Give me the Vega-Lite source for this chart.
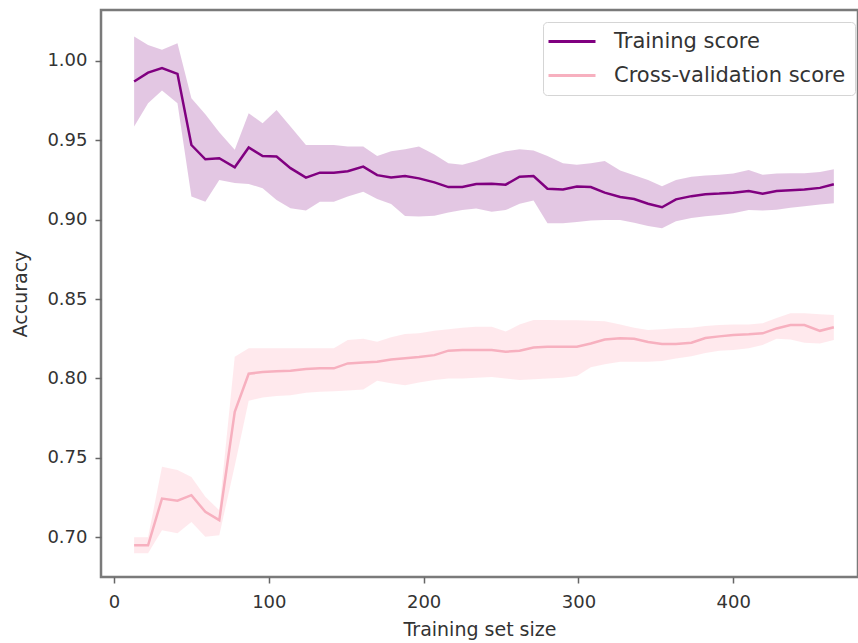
{
  "$schema": "https://vega.github.io/schema/vega-lite/v6.json",
  "width": 757,
  "height": 567,
  "autosize": {"type": "none"},
  "padding": {"left": 101, "top": 10, "right": 0, "bottom": 66},
  "background": "white",
  "config": {
    "font": "DejaVu Sans",
    "view": {"stroke": "#7a7a7a", "strokeWidth": 2.5},
    "axis": {
      "domain": false,
      "grid": false,
      "tickColor": "#666666",
      "tickWidth": 1.5,
      "tickSize": 6,
      "labelFont": "DejaVu Sans",
      "labelFontSize": 18,
      "labelColor": "#333333",
      "labelPadding": 8,
      "titleFont": "DejaVu Sans",
      "titleFontSize": 19,
      "titleFontWeight": "normal",
      "titleColor": "#333333"
    }
  },
  "data": {
    "values": [
      {"size": 13, "series": "Training score", "mean": 0.987, "lo": 0.9586, "hi": 1.0153},
      {"size": 22, "series": "Training score", "mean": 0.9926, "lo": 0.9733, "hi": 1.010},
      {"size": 31, "series": "Training score", "mean": 0.9954, "lo": 0.9813, "hi": 1.0069},
      {"size": 41, "series": "Training score", "mean": 0.9918, "lo": 0.9733, "hi": 1.011},
      {"size": 50, "series": "Training score", "mean": 0.947, "lo": 0.9145, "hi": 0.9765},
      {"size": 59, "series": "Training score", "mean": 0.938, "lo": 0.9113, "hi": 0.9664},
      {"size": 68, "series": "Training score", "mean": 0.9387, "lo": 0.925, "hi": 0.955},
      {"size": 78, "series": "Training score", "mean": 0.933, "lo": 0.923, "hi": 0.944},
      {"size": 87, "series": "Training score", "mean": 0.9454, "lo": 0.9225, "hi": 0.967},
      {"size": 96, "series": "Training score", "mean": 0.940, "lo": 0.9198, "hi": 0.9607},
      {"size": 105, "series": "Training score", "mean": 0.9397, "lo": 0.9124, "hi": 0.969},
      {"size": 114, "series": "Training score", "mean": 0.9324, "lo": 0.9072, "hi": 0.9586},
      {"size": 124, "series": "Training score", "mean": 0.9265, "lo": 0.9057, "hi": 0.947},
      {"size": 133, "series": "Training score", "mean": 0.9296, "lo": 0.9113, "hi": 0.947},
      {"size": 142, "series": "Training score", "mean": 0.9296, "lo": 0.9113, "hi": 0.947},
      {"size": 151, "series": "Training score", "mean": 0.9305, "lo": 0.9145, "hi": 0.946},
      {"size": 161, "series": "Training score", "mean": 0.9334, "lo": 0.9176, "hi": 0.946},
      {"size": 170, "series": "Training score", "mean": 0.928, "lo": 0.913, "hi": 0.940},
      {"size": 179, "series": "Training score", "mean": 0.9265, "lo": 0.9099, "hi": 0.943},
      {"size": 188, "series": "Training score", "mean": 0.9275, "lo": 0.9023, "hi": 0.9444},
      {"size": 197, "series": "Training score", "mean": 0.926, "lo": 0.902, "hi": 0.946},
      {"size": 207, "series": "Training score", "mean": 0.9235, "lo": 0.9025, "hi": 0.941},
      {"size": 216, "series": "Training score", "mean": 0.9205, "lo": 0.9045, "hi": 0.9355},
      {"size": 225, "series": "Training score", "mean": 0.9205, "lo": 0.906, "hi": 0.9345},
      {"size": 234, "series": "Training score", "mean": 0.9225, "lo": 0.907, "hi": 0.937},
      {"size": 244, "series": "Training score", "mean": 0.9226, "lo": 0.905, "hi": 0.9405},
      {"size": 253, "series": "Training score", "mean": 0.922, "lo": 0.906, "hi": 0.943},
      {"size": 262, "series": "Training score", "mean": 0.927, "lo": 0.910, "hi": 0.9444},
      {"size": 271, "series": "Training score", "mean": 0.9275, "lo": 0.912, "hi": 0.9435},
      {"size": 280, "series": "Training score", "mean": 0.9195, "lo": 0.8977, "hi": 0.940},
      {"size": 290, "series": "Training score", "mean": 0.919, "lo": 0.8977, "hi": 0.9355},
      {"size": 299, "series": "Training score", "mean": 0.9208, "lo": 0.8985, "hi": 0.9345},
      {"size": 308, "series": "Training score", "mean": 0.9205, "lo": 0.8995, "hi": 0.9355},
      {"size": 317, "series": "Training score", "mean": 0.917, "lo": 0.8998, "hi": 0.937},
      {"size": 327, "series": "Training score", "mean": 0.9143, "lo": 0.8998, "hi": 0.931},
      {"size": 336, "series": "Training score", "mean": 0.913, "lo": 0.898, "hi": 0.928},
      {"size": 345, "series": "Training score", "mean": 0.910, "lo": 0.896, "hi": 0.925},
      {"size": 354, "series": "Training score", "mean": 0.9078, "lo": 0.8946, "hi": 0.921},
      {"size": 363, "series": "Training score", "mean": 0.9128, "lo": 0.899, "hi": 0.925},
      {"size": 373, "series": "Training score", "mean": 0.9148, "lo": 0.901, "hi": 0.927},
      {"size": 382, "series": "Training score", "mean": 0.916, "lo": 0.9022, "hi": 0.9278},
      {"size": 391, "series": "Training score", "mean": 0.9164, "lo": 0.903, "hi": 0.9282},
      {"size": 400, "series": "Training score", "mean": 0.917, "lo": 0.904, "hi": 0.929},
      {"size": 410, "series": "Training score", "mean": 0.918, "lo": 0.9061, "hi": 0.9313},
      {"size": 419, "series": "Training score", "mean": 0.9163, "lo": 0.9057, "hi": 0.9282},
      {"size": 428, "series": "Training score", "mean": 0.918, "lo": 0.9062, "hi": 0.929},
      {"size": 437, "series": "Training score", "mean": 0.9185, "lo": 0.9075, "hi": 0.9292},
      {"size": 446, "series": "Training score", "mean": 0.919, "lo": 0.9085, "hi": 0.9292},
      {"size": 456, "series": "Training score", "mean": 0.920, "lo": 0.9095, "hi": 0.930},
      {"size": 465, "series": "Training score", "mean": 0.9223, "lo": 0.9103, "hi": 0.9318},
      {"size": 13, "series": "Cross-validation score", "mean": 0.695, "lo": 0.690, "hi": 0.700},
      {"size": 22, "series": "Cross-validation score", "mean": 0.695, "lo": 0.690, "hi": 0.700},
      {"size": 31, "series": "Cross-validation score", "mean": 0.7244, "lo": 0.7045, "hi": 0.7444},
      {"size": 41, "series": "Cross-validation score", "mean": 0.723, "lo": 0.7026, "hi": 0.7423},
      {"size": 50, "series": "Cross-validation score", "mean": 0.7265, "lo": 0.7097, "hi": 0.738},
      {"size": 59, "series": "Cross-validation score", "mean": 0.716, "lo": 0.7003, "hi": 0.7255},
      {"size": 68, "series": "Cross-validation score", "mean": 0.7108, "lo": 0.7013, "hi": 0.717},
      {"size": 78, "series": "Cross-validation score", "mean": 0.779, "lo": 0.745, "hi": 0.8137},
      {"size": 87, "series": "Cross-validation score", "mean": 0.803, "lo": 0.786, "hi": 0.819},
      {"size": 96, "series": "Cross-validation score", "mean": 0.804, "lo": 0.788, "hi": 0.819},
      {"size": 105, "series": "Cross-validation score", "mean": 0.8045, "lo": 0.789, "hi": 0.819},
      {"size": 114, "series": "Cross-validation score", "mean": 0.8049, "lo": 0.7895, "hi": 0.819},
      {"size": 124, "series": "Cross-validation score", "mean": 0.806, "lo": 0.791, "hi": 0.819},
      {"size": 133, "series": "Cross-validation score", "mean": 0.8064, "lo": 0.7916, "hi": 0.819},
      {"size": 142, "series": "Cross-validation score", "mean": 0.8064, "lo": 0.792, "hi": 0.819},
      {"size": 151, "series": "Cross-validation score", "mean": 0.8095, "lo": 0.7925, "hi": 0.8242},
      {"size": 161, "series": "Cross-validation score", "mean": 0.810, "lo": 0.793, "hi": 0.825},
      {"size": 170, "series": "Cross-validation score", "mean": 0.8105, "lo": 0.7985, "hi": 0.8231},
      {"size": 179, "series": "Cross-validation score", "mean": 0.812, "lo": 0.797, "hi": 0.826},
      {"size": 188, "series": "Cross-validation score", "mean": 0.8127, "lo": 0.7958, "hi": 0.828},
      {"size": 197, "series": "Cross-validation score", "mean": 0.8135, "lo": 0.7975, "hi": 0.8285},
      {"size": 207, "series": "Cross-validation score", "mean": 0.8147, "lo": 0.799, "hi": 0.830},
      {"size": 216, "series": "Cross-validation score", "mean": 0.8175, "lo": 0.800, "hi": 0.831},
      {"size": 225, "series": "Cross-validation score", "mean": 0.818, "lo": 0.800, "hi": 0.832},
      {"size": 234, "series": "Cross-validation score", "mean": 0.818, "lo": 0.8005, "hi": 0.8325},
      {"size": 244, "series": "Cross-validation score", "mean": 0.8179, "lo": 0.801, "hi": 0.8326},
      {"size": 253, "series": "Cross-validation score", "mean": 0.8168, "lo": 0.800, "hi": 0.8295},
      {"size": 262, "series": "Cross-validation score", "mean": 0.8175, "lo": 0.799, "hi": 0.834},
      {"size": 271, "series": "Cross-validation score", "mean": 0.8195, "lo": 0.7995, "hi": 0.8368},
      {"size": 280, "series": "Cross-validation score", "mean": 0.820, "lo": 0.800, "hi": 0.8368},
      {"size": 290, "series": "Cross-validation score", "mean": 0.820, "lo": 0.8005, "hi": 0.8367},
      {"size": 299, "series": "Cross-validation score", "mean": 0.820, "lo": 0.8015, "hi": 0.8366},
      {"size": 308, "series": "Cross-validation score", "mean": 0.822, "lo": 0.807, "hi": 0.8364},
      {"size": 317, "series": "Cross-validation score", "mean": 0.8245, "lo": 0.809, "hi": 0.836},
      {"size": 327, "series": "Cross-validation score", "mean": 0.8253, "lo": 0.8105, "hi": 0.834},
      {"size": 336, "series": "Cross-validation score", "mean": 0.825, "lo": 0.8105, "hi": 0.832},
      {"size": 345, "series": "Cross-validation score", "mean": 0.823, "lo": 0.8105, "hi": 0.8305},
      {"size": 354, "series": "Cross-validation score", "mean": 0.8217, "lo": 0.811, "hi": 0.831},
      {"size": 363, "series": "Cross-validation score", "mean": 0.8217, "lo": 0.8125, "hi": 0.8316},
      {"size": 373, "series": "Cross-validation score", "mean": 0.8225, "lo": 0.814, "hi": 0.832},
      {"size": 382, "series": "Cross-validation score", "mean": 0.8255, "lo": 0.816, "hi": 0.833},
      {"size": 391, "series": "Cross-validation score", "mean": 0.8265, "lo": 0.8175, "hi": 0.8336},
      {"size": 400, "series": "Cross-validation score", "mean": 0.8274, "lo": 0.818, "hi": 0.834},
      {"size": 410, "series": "Cross-validation score", "mean": 0.8278, "lo": 0.819, "hi": 0.834},
      {"size": 419, "series": "Cross-validation score", "mean": 0.8284, "lo": 0.821, "hi": 0.8347},
      {"size": 428, "series": "Cross-validation score", "mean": 0.8315, "lo": 0.825, "hi": 0.838},
      {"size": 437, "series": "Cross-validation score", "mean": 0.8336, "lo": 0.8245, "hi": 0.841},
      {"size": 446, "series": "Cross-validation score", "mean": 0.8336, "lo": 0.8225, "hi": 0.841},
      {"size": 456, "series": "Cross-validation score", "mean": 0.830, "lo": 0.822, "hi": 0.8405},
      {"size": 465, "series": "Cross-validation score", "mean": 0.8322, "lo": 0.8242, "hi": 0.84}
    ]
  },
  "encoding": {
    "x": {
      "field": "size",
      "type": "quantitative",
      "title": "Training set size",
      "scale": {"domain": [-8.4, 480.6], "nice": false, "zero": false},
      "axis": {"values": [0, 100, 200, 300, 400], "labelPadding": 10, "titlePadding": 9}
    },
    "y": {
      "type": "quantitative",
      "title": "Accuracy",
      "scale": {"domain": [0.675, 1.032], "nice": false, "zero": false},
      "axis": {"values": [0.7, 0.75, 0.8, 0.85, 0.9, 0.95, 1.0], "format": ".2f", "titlePadding": 16}
    }
  },
  "layer": [
    {
      "transform": [{"filter": "datum.series === 'Training score'"}],
      "mark": {"type": "area", "color": "#800080", "opacity": 0.22},
      "encoding": {
        "y": {"field": "lo", "type": "quantitative", "title": "Accuracy"},
        "y2": {"field": "hi"}
      }
    },
    {
      "transform": [{"filter": "datum.series === 'Cross-validation score'"}],
      "mark": {"type": "area", "color": "#ffc0cb", "opacity": 0.35},
      "encoding": {
        "y": {"field": "lo", "type": "quantitative", "title": "Accuracy"},
        "y2": {"field": "hi"}
      }
    },
    {
      "mark": {"type": "line", "strokeWidth": 2.5},
      "encoding": {
        "y": {"field": "mean", "type": "quantitative", "title": "Accuracy"},
        "color": {
          "field": "series",
          "type": "nominal",
          "scale": {"domain": ["Training score", "Cross-validation score"], "range": ["#800080", "#f7b0bf"]},
          "legend": {
            "title": null,
            "orient": "none",
            "legendX": 442,
            "legendY": 12,
            "symbolType": "M-2.8,0H6.6",
            "symbolSize": 100,
            "symbolStrokeWidth": 3,
            "labelFont": "DejaVu Sans",
            "labelFontSize": 21,
            "labelColor": "#333333",
            "labelOffset": 41,
            "labelLimit": 400,
            "padding": 9,
            "rowPadding": 12,
            "strokeColor": "#d5d5d5",
            "fillColor": "white",
            "cornerRadius": 4
          }
        }
      }
    }
  ]
}
